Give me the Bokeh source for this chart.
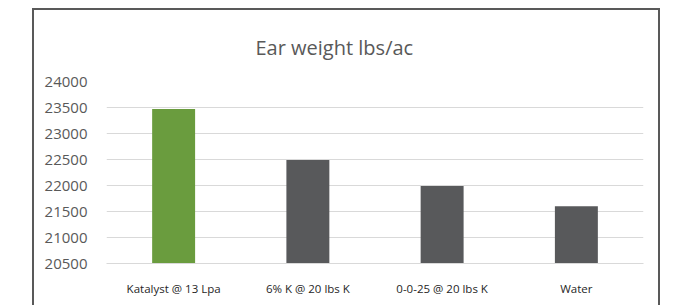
from bokeh.plotting import figure
from bokeh.models import Range1d
from bokeh.embed import file_html
from bokeh.resources import INLINE

categories = ["Katalyst @ 13 Lpa", "6% K @ 20 lbs K", "0-0-25 @ 20 lbs K", "Water"]
values = [23470, 22490, 21990, 21600]
colors = ["#6A9C3E", "#58595B", "#58595B", "#58595B"]
y_ticks = [20500, 21000, 21500, 22000, 22500, 23000, 23500, 24000]
title_text = "Ear weight lbs/ac"

p = figure(
    x_range=categories,
    y_range=Range1d(20500, 24000),
    width=628, height=297,
    output_backend="svg", toolbar_location=None,
    min_border_left=72, min_border_right=19,
    min_border_top=71, min_border_bottom=44,
    styles={"border": "2px solid #595959", "border-bottom": "none",
            "margin-left": "32px", "margin-top": "8px"},
)

p.vbar(x=categories, top=values, bottom=y_ticks[0], width=0.32,
       color=colors, line_color=None)

p.title.text = title_text
p.title.align = "left"
p.title.offset = 149
p.title.standoff = 42
p.title.text_font = "Open Sans"
p.title.text_font_size = "20px"
p.title.text_font_style = "normal"
p.title.text_color = "#595959"

p.outline_line_color = None
p.xgrid.visible = False
p.ygrid.grid_line_color = "#D9D9D9"
p.ygrid.grid_line_width = 1

p.yaxis.ticker = y_ticks
p.yaxis.axis_line_color = None
p.yaxis.major_tick_line_color = None
p.yaxis.minor_tick_line_color = None
p.yaxis.major_label_text_font = "Open Sans"
p.yaxis.major_label_text_font_size = "15px"
p.yaxis.major_label_text_color = "#595959"
p.yaxis.major_label_standoff = 13

p.xaxis.axis_line_color = "#D9D9D9"
p.xaxis.major_tick_line_color = None
p.xaxis.minor_tick_line_color = None
p.xaxis.major_label_text_font = "Open Sans"
p.xaxis.major_label_text_font_size = "11.5px"
p.xaxis.major_label_text_color = "#262626"
p.xaxis.major_label_standoff = 11

open("out.html", "w").write(file_html(p, INLINE))
